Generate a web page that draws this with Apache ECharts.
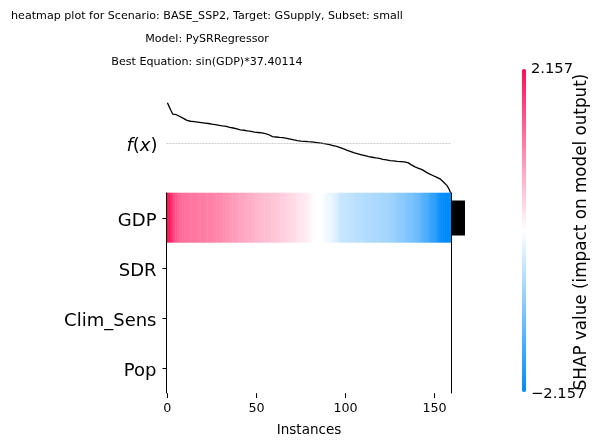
<!DOCTYPE html>
<html>
<head>
<meta charset="utf-8">
<style>html,body{margin:0;padding:0;background:#fff}#c{width:601px;height:446px}</style>
<script src="https://cdn.jsdelivr.net/npm/echarts@6/dist/echarts.min.js"></script>
</head>
<body>
<div id="c"></div>
<script>
const features = ['GDP', 'SDR', 'Clim_Sens', 'Pop'];
const xTickStep = 50;
const colorLimit = 2.157;
const importance = [0.97, 0, 0, 0];
const titleLines = [
  'heatmap plot for Scenario: BASE_SSP2, Target: GSupply, Subset: small',
  'Model: PySRRegressor',
  'Best Equation: sin(GDP)*37.40114'
];
const fxValues = [
  1.80,1.63,1.46,1.30,1.29,1.27,1.23,1.19,1.15,1.11,
  1.05,1.02,0.99,0.98,0.97,0.96,0.95,0.94,0.93,0.92,
  0.91,0.90,0.89,0.88,0.86,0.85,0.84,0.83,0.81,0.80,
  0.79,0.77,0.76,0.75,0.73,0.71,0.70,0.68,0.66,0.64,
  0.62,0.60,0.59,0.58,0.57,0.55,0.54,0.53,0.52,0.50,
  0.49,0.48,0.47,0.46,0.45,0.43,0.41,0.38,0.34,0.30,
  0.28,0.28,0.27,0.26,0.26,0.25,0.23,0.22,0.20,0.19,
  0.17,0.15,0.14,0.12,0.11,0.10,0.09,0.09,0.08,0.07,
  0.06,0.06,0.05,0.04,0.03,0.02,0.01,0.00,-0.01,-0.03,
  -0.04,-0.06,-0.08,-0.10,-0.12,-0.14,-0.16,-0.19,-0.22,-0.25,
  -0.28,-0.31,-0.34,-0.37,-0.40,-0.43,-0.45,-0.47,-0.49,-0.51,
  -0.53,-0.55,-0.57,-0.59,-0.61,-0.62,-0.63,-0.65,-0.66,-0.67,
  -0.69,-0.71,-0.72,-0.74,-0.75,-0.77,-0.78,-0.78,-0.79,-0.80,
  -0.81,-0.81,-0.82,-0.83,-0.84,-0.86,-0.91,-0.96,-1.02,-1.05,
  -1.08,-1.11,-1.14,-1.17,-1.22,-1.27,-1.32,-1.36,-1.40,-1.43,
  -1.47,-1.50,-1.54,-1.58,-1.65,-1.72,-1.78,-1.88,-2.02,-2.20
];
const gdpShap = [
  2.157,2.05,1.90,1.75,1.62,1.50,1.40,1.33,1.31,1.29,
  1.27,1.26,1.25,1.24,1.23,1.22,1.21,1.20,1.19,1.18,
  1.17,1.16,1.15,1.14,1.13,1.13,1.12,1.10,1.08,1.06,
  1.04,1.02,1.00,0.98,0.96,0.94,0.92,0.90,0.88,0.86,
  0.84,0.82,0.80,0.78,0.76,0.75,0.73,0.72,0.69,0.67,
  0.66,0.64,0.63,0.61,0.60,0.59,0.57,0.56,0.55,0.53,
  0.52,0.50,0.48,0.46,0.44,0.43,0.41,0.39,0.37,0.35,
  0.33,0.31,0.29,0.27,0.25,0.23,0.21,0.19,0.17,0.14,
  0.11,0.07,0.03,0.01,0.00,0.00,0.00,-0.02,-0.05,-0.09,
  -0.13,-0.15,-0.17,-0.20,-0.26,-0.32,-0.39,-0.45,-0.47,-0.49,
  -0.50,-0.51,-0.52,-0.54,-0.56,-0.58,-0.59,-0.60,-0.61,-0.63,
  -0.64,-0.65,-0.66,-0.67,-0.68,-0.69,-0.70,-0.71,-0.72,-0.73,
  -0.74,-0.75,-0.76,-0.78,-0.79,-0.80,-0.83,-0.86,-0.89,-0.92,
  -0.95,-0.98,-1.00,-1.03,-1.06,-1.09,-1.12,-1.15,-1.17,-1.20,
  -1.23,-1.28,-1.34,-1.40,-1.45,-1.51,-1.56,-1.62,-1.68,-1.73,
  -1.79,-1.86,-1.94,-2.01,-2.08,-2.157,-2.157,-2.157,-2.157,-2.157
];

const FONT = '"DejaVu Sans"';
const n = gdpShap.length;
const instances = gdpShap.map((_, i) => i);
const heat = [];
features.forEach((f, r) => instances.forEach(i => heat.push([i, r, r === 0 ? gdpShap[i] : 0])));

const chart = echarts.init(document.getElementById('c'), null, { renderer: 'canvas' });
chart.setOption({
  animation: false,
  backgroundColor: '#fff',
  textStyle: { fontFamily: FONT },
  title: titleLines.map((t, i) => ({
    text: t, left: 207, top: 10.6 + i * 22.9, textAlign: 'center', padding: 0,
    textStyle: { fontFamily: FONT, fontSize: 11.1, fontWeight: 'normal', color: '#000' }
  })),
  grid: [
    { left: 166.5, width: 285, top: 193, height: 200 },
    { left: 166.5, width: 285, top: 93.8, height: 99 },
    { left: 451.5, width: 13.5, top: 193, height: 200 }
  ],
  xAxis: [
    { type: 'category', gridIndex: 0, data: instances, boundaryGap: true,
      axisLine: { show: false },
      axisTick: { show: true, alignWithLabel: true, length: 5, interval: i => i % xTickStep === 0, lineStyle: { color: '#000', width: 1 } },
      axisLabel: { interval: i => i % xTickStep === 0, fontSize: 12.7, color: '#000', margin: 9, fontFamily: FONT },
      splitLine: { show: false },
      name: 'Instances', nameLocation: 'middle', nameGap: 30,
      nameTextStyle: { fontSize: 13.5, color: '#000', fontFamily: FONT } },
    { type: 'value', gridIndex: 1, min: -0.5, max: n - 0.5, show: false, splitLine: { show: false } },
    { type: 'value', gridIndex: 2, min: 0, max: importance[0], show: false, splitLine: { show: false } }
  ],
  yAxis: [
    { type: 'category', gridIndex: 0, data: features, inverse: true, z: 6,
      axisLine: { show: true, lineStyle: { color: '#000', width: 1 } },
      axisTick: { show: true, alignWithLabel: true, length: 4, lineStyle: { color: '#000', width: 1 } },
      axisLabel: {
        margin: 10, color: '#000', padding: [6, 0, 0, 0],
        formatter: v => '{t|' + v + '}',
        rich: { t: { fontSize: 18, fontFamily: FONT, color: '#000' } }
      },
      splitLine: { show: false } },
    { type: 'value', gridIndex: 1, min: -2.2, max: 2.2, interval: 2.2,
      axisLine: { show: false }, axisTick: { show: false }, splitLine: { show: false },
      axisLabel: {
        margin: 9, color: '#000', padding: [6, 0, 0, 0],
        formatter: v => Math.abs(v) < 1e-9 ? '{i|f}{n|(}{i|x}{n|)}' : '',
        rich: {
          i: { fontSize: 18, fontStyle: 'italic', fontFamily: FONT, color: '#000' },
          n: { fontSize: 18, fontFamily: FONT, color: '#000' }
        }
      } },
    { type: 'category', gridIndex: 2, data: features, inverse: true, show: false },
    { type: 'value', gridIndex: 0, position: 'right', min: 0, max: 1, z: 6,
      axisLine: { show: true, onZero: false, lineStyle: { color: '#000', width: 1 } },
      axisTick: { show: false }, axisLabel: { show: false }, splitLine: { show: false } }
  ],
  visualMap: {
    type: 'continuous', seriesIndex: 0, min: -colorLimit, max: colorLimit,
    left: 522, top: 69, itemWidth: 4, itemHeight: 323, padding: 0,
    calculable: false, hoverLink: false, text: null, showLabel: false,
    inRange: { color: ['#008bfb', '#ffffff', '#ff0d57'] }
  },
  series: [
    { type: 'heatmap', xAxisIndex: 0, yAxisIndex: 0, data: heat, progressive: 0,
      itemStyle: { borderWidth: 0 }, emphasis: { disabled: true } },
    { type: 'line', xAxisIndex: 1, yAxisIndex: 1, data: fxValues.map((v, i) => [i, v]),
      showSymbol: false, symbol: 'none', lineStyle: { color: '#000', width: 1.3 },
      markLine: { silent: true, symbol: 'none', label: { show: false },
        lineStyle: { color: '#aaa', width: 0.6, type: [2, 1] }, data: [{ yAxis: 0 }] } },
    { type: 'bar', xAxisIndex: 2, yAxisIndex: 2, data: importance, barWidth: 35,
      itemStyle: { color: '#000' } }
  ],
  graphic: [
    { type: 'text', left: 531, top: 62, style: { text: colorLimit.toFixed(3), font: '14.7px "DejaVu Sans"', fill: '#000' } },
    { type: 'text', left: 531, top: 387, style: { text: '\u2212' + colorLimit.toFixed(3), font: '14.7px "DejaVu Sans"', fill: '#000' } },
    { type: 'text', x: 582, y: 232, rotation: Math.PI / 2,
      style: { text: 'SHAP value (impact on model output)', font: '16.8px "DejaVu Sans"', fill: '#000', align: 'center', verticalAlign: 'middle' } }
  ]
});
</script>
</body>
</html>
